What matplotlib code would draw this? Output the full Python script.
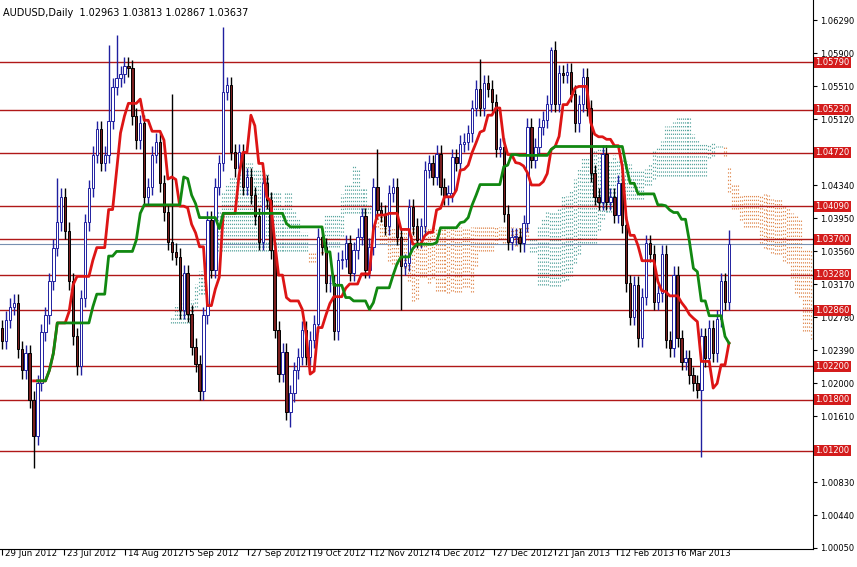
import matplotlib
matplotlib.use("Agg")
import matplotlib.pyplot as plt
import numpy as np
import pandas as pd

closes = [
1.0250,1.0275,1.0290,1.0295,1.0240,1.0215,1.0235,1.0180,1.0137,1.0200,
1.0260,1.0280,1.0320,1.0360,1.0390,1.0420,1.0380,1.0320,1.0255,1.0220,
1.0300,1.0390,1.0430,1.0470,1.0500,1.0460,1.0470,1.0510,1.0550,1.0560,
1.0565,1.0575,1.0572,1.0515,1.0487,1.0507,1.0420,1.0432,1.0470,1.0485,
1.0436,1.0402,1.0367,1.0355,1.0349,1.0286,1.0330,1.0282,1.0243,1.0223,
1.0190,
1.0280,1.0393,1.0334,1.0432,1.0460,1.0544,1.0552,1.0473,1.0454,1.0473,
1.0432,1.0444,1.0422,1.0397,1.0367,1.0436,1.0416,1.0357,1.0263,1.0211,
1.0237,1.0166,1.0188,1.0215,1.0231,1.0263,1.0231,1.0251,1.0270,1.0373,
1.0361,1.0318,1.0318,1.0261,1.0345,1.0347,1.0365,1.0330,1.0357,1.0373,
1.0397,1.0334,1.0361,1.0432,1.0404,1.0400,1.0385,1.0424,1.0432,
1.0373,1.0338,1.0342,1.0408,1.0385,1.0369,1.0385,1.0452,1.0460,1.0444,
1.0471,1.0432,1.0420,1.0424,1.0467,1.0460,1.0483,1.0485,1.0495,1.0525,
1.0548,1.0525,1.0554,1.0548,1.0532,1.0477,1.0479,1.0400,1.0367,1.0373,
1.0373,1.0365,1.0389,1.0503,1.0464,1.0479,1.0503,1.0511,1.0530,1.0594,
1.0530,1.0566,1.0564,1.0568,1.0542,1.0507,1.0530,
1.0562,1.0525,1.0448,1.0420,1.0414,1.0471,1.0414,1.0420,1.0399,1.0436,
1.0387,1.0318,1.0278,1.0316,1.0253,1.0302,1.0365,1.0353,1.0296,1.0306,
1.0353,1.0251,1.0241,1.0328,1.0253,1.0225,1.0229,1.0209,1.0200,1.0192,
1.0255,1.0229,1.0265,1.0235,1.0276,1.0320,1.02963,1.03637]
first_open = 1.0265
default_wick = 0.0010
high_overrides = {14: 1.0442, 27: 1.0600, 29: 1.0611, 43: 1.0542, 56: 1.0621,
                  95: 1.0477, 121: 1.0583, 139: 1.0597, 184: 1.03813}
low_overrides = {8: 1.0100, 73: 1.0148, 101: 1.0286, 177: 1.0113, 184: 1.02867}

levels = [1.0579, 1.0523, 1.0472, 1.0409, 1.0370, 1.0328, 1.0286, 1.0220, 1.0180, 1.0120]
yticks = [1.0629, 1.0590, 1.0551, 1.0512, 1.0434, 1.0395, 1.0356, 1.0317, 1.0278,
          1.0239, 1.0200, 1.0161, 1.0083, 1.0044, 1.0005]
date_labels = ["29 Jun 2012", "23 Jul 2012", "14 Aug 2012", "5 Sep 2012", "27 Sep 2012",
               "19 Oct 2012", "12 Nov 2012", "4 Dec 2012", "27 Dec 2012", "21 Jan 2013",
               "12 Feb 2013", "6 Mar 2013"]
date_px = [0, 62, 123, 184, 246, 307, 369, 430, 492, 553, 615, 676]
title = "AUDUSD,Daily  1.02963 1.03813 1.02867 1.03637"

n = len(closes)
c = np.array(closes)
o = np.concatenate([[first_open], c[:-1]])
o[-1] = 1.02963
hi = np.maximum(o, c) + default_wick
lo = np.minimum(o, c) - default_wick
for k, v in high_overrides.items():
    if k < n: hi[k] = v
for k, v in low_overrides.items():
    if k < n: lo[k] = v

px_per_bar = 727.0 / (n - 1)
W, H = 857, 567
fig = plt.figure(figsize=(W/100, H/100), dpi=100)
ax = fig.add_axes([0, 18/H, 813/W, 1 - 18/H])
ax.set_xlim(-0.5, 813/px_per_bar - 0.5)
ylo = 1.0005 - 1*0.0001182
yhi = 1.0629 + 20*0.0001182
ax.set_ylim(ylo, yhi)

s_hi = pd.Series(hi); s_lo = pd.Series(lo)
tenkan = (s_hi.rolling(9).max() + s_lo.rolling(9).min()) / 2
kijun = (s_hi.rolling(26, min_periods=10).max() + s_lo.rolling(26, min_periods=10).min()) / 2
spanA = ((tenkan + kijun) / 2).values
spanB = ((s_hi.rolling(52, min_periods=1).max() + s_lo.rolling(52, min_periods=1).min()) / 2).values
xa = np.arange(n) + 26
for i in range(n):
    a, b = spanA[i], spanB[i]
    if np.isnan(a) or np.isnan(b):
        continue
    col = '#5aa6a0' if a > b else '#e08a50'
    for dx in (0, 0.5):
        ax.vlines(xa[i] + dx - 0.25, min(a, b), max(a, b), colors=col, linestyles=(0, (1.2, 2.2)), lw=0.8, zorder=1)

for lv in levels:
    ax.axhline(lv, color='#b01818', lw=1, zorder=2)
ax.axhline(closes[-1], color='#7890b0', lw=0.8, zorder=2)

x = np.arange(n)
for i in range(n):
    up = c[i] >= o[i]
    ax.vlines(x[i], lo[i], hi[i], colors='#2020a0' if up else '#000000', lw=1, zorder=3)
    bot, top = min(o[i], c[i]), max(o[i], c[i])
    ax.bar(x[i], max(top - bot, 0.00005), bottom=bot, width=0.6,
           color='white' if up else '#7a1f1f', edgecolor='#2020a0' if up else '#000000',
           lw=0.7, zorder=4)

ax.plot(x, tenkan, color='#dd1515', lw=2, zorder=5)
ax.plot(x, kijun, color='#118811', lw=2, zorder=5)

ax.set_xticks([p/px_per_bar for p in date_px])
ax.set_xticklabels([])
ax.tick_params(axis='x', length=4, direction='out', colors='black')
for p, lab in zip(date_px, date_labels):
    ax.text((p+3)/px_per_bar, ylo, lab, ha='left', va='top', fontsize=6.3,
            transform=ax.transData, clip_on=False)
ax.yaxis.tick_right()
ax.set_yticks(yticks)
ax.set_yticklabels([f"{v:.5f}" for v in yticks], fontsize=6)
ax.tick_params(axis='y', length=3, direction='out', pad=2)
for sp in ['top', 'left']:
    ax.spines[sp].set_visible(False)
for lv in levels:
    ax.text(1.003, lv, f"{lv:.5f}", transform=ax.get_yaxis_transform(), ha='left', va='center',
            fontsize=6, color='white', zorder=10, clip_on=False,
            bbox=dict(boxstyle='square,pad=0.12', fc='#d41c1c', ec='none'))
ax.text(0.004, 0.985, title, transform=ax.transAxes, fontsize=7, ha='left', va='top', zorder=11)
fig.savefig("out.png", dpi=100)
